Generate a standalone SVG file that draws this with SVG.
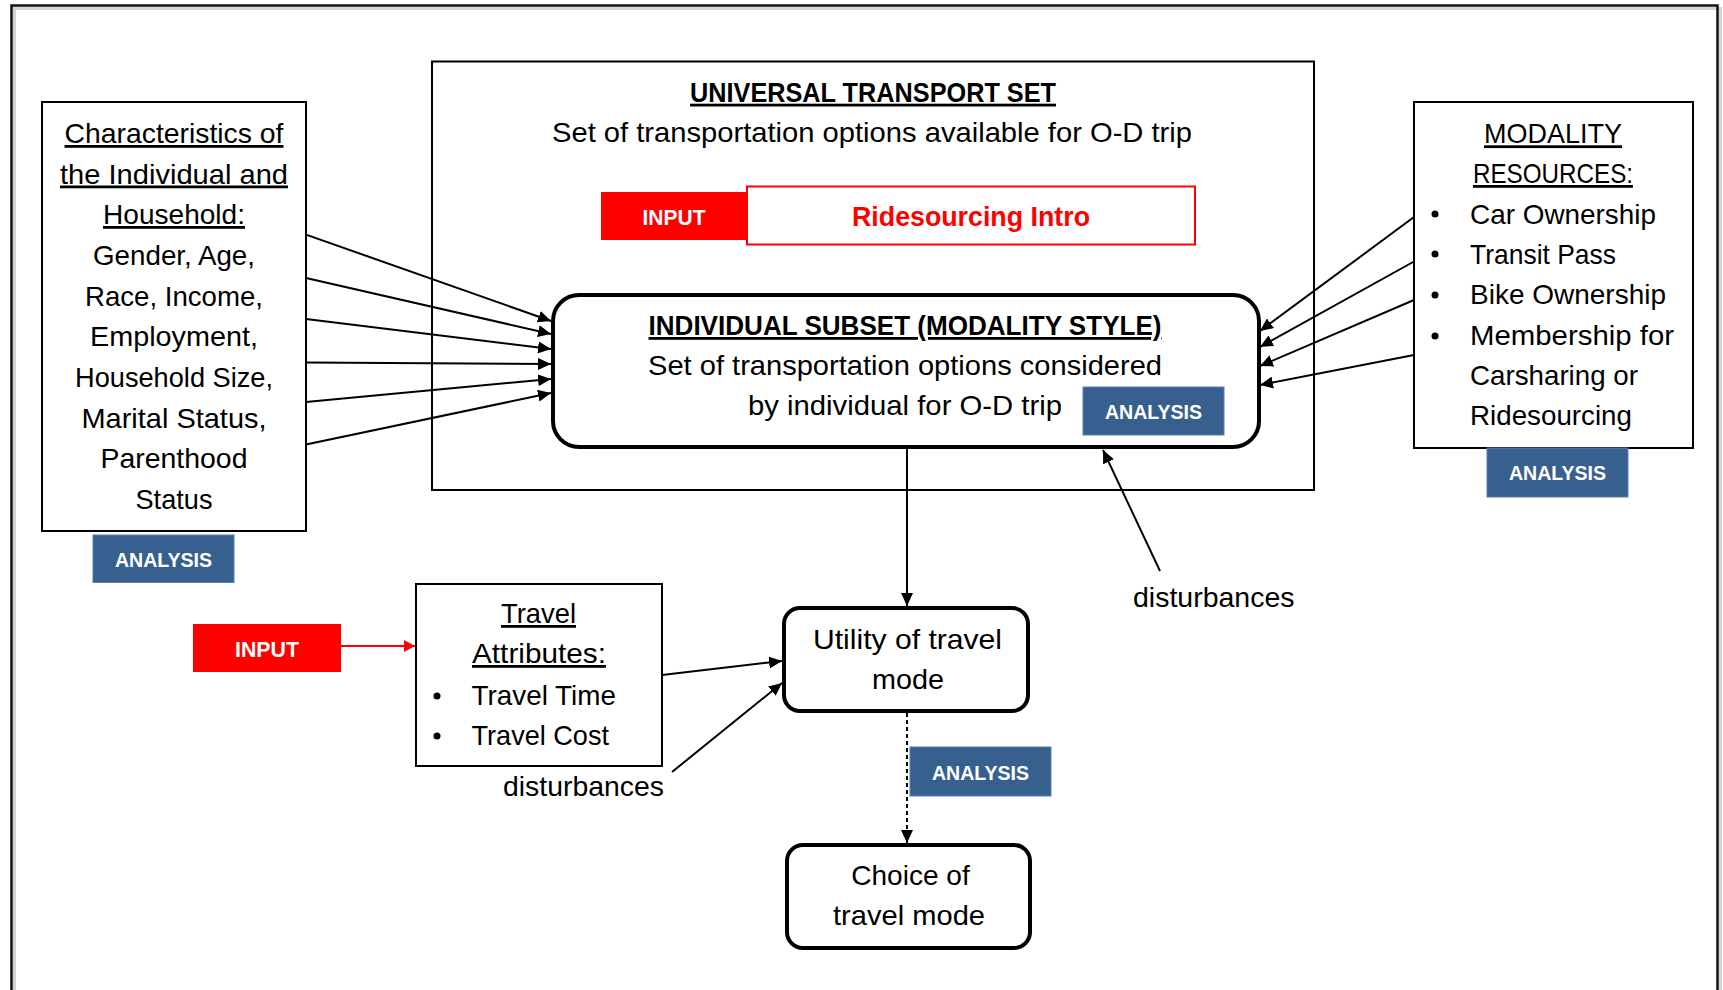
<svg xmlns="http://www.w3.org/2000/svg" width="1723" height="990" viewBox="0 0 1723 990">
<style>
text{font-family:"Liberation Sans",Arial,sans-serif;fill:#000;}
.t{font-size:28px;}
.tc{font-size:28px;text-anchor:middle;}
.u{text-decoration:underline;}
.b{font-weight:bold;}
.box{fill:#fff;stroke:#000;stroke-width:2;}
.rbox{fill:#fff;stroke:#000;stroke-width:4;}
.ana{fill:#38608F;stroke:#5A7FAE;stroke-width:1;}
.anat{font-size:21px;font-weight:bold;fill:#fff;text-anchor:middle;}
.inp{fill:#FF0000;}
.inpt{font-size:22px;font-weight:bold;fill:#fff;text-anchor:middle;}
.ln{stroke:#000;stroke-width:2;fill:none;}
</style>
<defs>
<marker id="ah" markerUnits="userSpaceOnUse" markerWidth="14" markerHeight="12" refX="13" refY="6" orient="auto">
<path d="M0,0 L13,6 L0,12 Z" fill="#000"/>
</marker>
<marker id="ahr" markerUnits="userSpaceOnUse" markerWidth="12" markerHeight="12" refX="11" refY="6" orient="auto">
<path d="M0,0 L11,6 L0,12 Z" fill="#FF0000"/>
</marker>
</defs>
<rect width="1723" height="990" fill="#fff"/>
<g id="frame">
<rect x="14.5" y="8.5" width="1706" height="1000" fill="none" stroke="#d4d4d4" stroke-width="3"/>
<rect x="11.5" y="5.5" width="1706" height="1000" fill="none" stroke="#111" stroke-width="2.5"/>
</g>

<g id="universal">
<rect class="box" x="432" y="61.5" width="882" height="428.5"/>
<text class="tc b u" x="873" y="101.7" font-size="27" textLength="366" lengthAdjust="spacingAndGlyphs">UNIVERSAL TRANSPORT SET</text>
<text class="tc" x="872" y="141.7" textLength="640" lengthAdjust="spacingAndGlyphs">Set of transportation options available for O-D trip</text>
</g>

<g id="input-top">
<rect class="inp" x="601" y="192" width="146" height="48"/>
<text class="inpt" x="674" y="225" textLength="63" lengthAdjust="spacingAndGlyphs">INPUT</text>
</g>
<g id="ridesourcing">
<rect x="747" y="186.5" width="448" height="58" fill="#fff" stroke="#FF0000" stroke-width="2"/>
<text class="tc b" x="971" y="226" font-size="27" style="fill:#FF0000" textLength="238" lengthAdjust="spacingAndGlyphs">Ridesourcing Intro</text>
</g>

<g id="subset">
<rect class="rbox" x="553" y="295" width="706" height="152" rx="26"/>
<text class="tc b u" x="905" y="335" font-size="27" textLength="513" lengthAdjust="spacingAndGlyphs">INDIVIDUAL SUBSET (MODALITY STYLE)</text>
<text class="tc" x="905" y="375" textLength="514" lengthAdjust="spacingAndGlyphs">Set of transportation options considered</text>
<text class="tc" x="905" y="415" textLength="314" lengthAdjust="spacingAndGlyphs">by individual for O-D trip</text>
</g>
<g id="analysis-subset">
<rect class="ana" x="1083" y="387" width="141" height="48"/>
<text class="anat" x="1153.5" y="419" textLength="97" lengthAdjust="spacingAndGlyphs">ANALYSIS</text>
</g>

<g id="characteristics">
<rect class="box" x="42" y="102" width="264" height="429"/>
<text class="tc u" x="174" y="143" textLength="219" lengthAdjust="spacingAndGlyphs">Characteristics of</text>
<text class="tc u" x="174" y="183.5" textLength="228" lengthAdjust="spacingAndGlyphs">the Individual and</text>
<text class="tc u" x="174" y="224" textLength="142" lengthAdjust="spacingAndGlyphs">Household:</text>
<text class="tc" x="174" y="264.5" textLength="162" lengthAdjust="spacingAndGlyphs">Gender, Age,</text>
<text class="tc" x="174" y="305.5" textLength="178" lengthAdjust="spacingAndGlyphs">Race, Income,</text>
<text class="tc" x="174" y="346" textLength="168" lengthAdjust="spacingAndGlyphs">Employment,</text>
<text class="tc" x="174" y="387" textLength="198" lengthAdjust="spacingAndGlyphs">Household Size,</text>
<text class="tc" x="174" y="427.5" textLength="185" lengthAdjust="spacingAndGlyphs">Marital Status,</text>
<text class="tc" x="174" y="468" textLength="147" lengthAdjust="spacingAndGlyphs">Parenthood</text>
<text class="tc" x="174" y="509" textLength="77" lengthAdjust="spacingAndGlyphs">Status</text>
</g>
<g id="analysis-left">
<rect class="ana" x="93" y="535" width="141" height="47.5"/>
<text class="anat" x="163.5" y="567" textLength="97" lengthAdjust="spacingAndGlyphs">ANALYSIS</text>
</g>

<g id="modality">
<rect class="box" x="1414" y="102" width="279" height="346"/>
<text class="tc u" x="1553" y="143.3" textLength="138" lengthAdjust="spacingAndGlyphs">MODALITY</text>
<text class="tc u" x="1553" y="183" textLength="160" lengthAdjust="spacingAndGlyphs">RESOURCES:</text>
<circle cx="1435" cy="214" r="3.5"/>
<circle cx="1435" cy="254" r="3.5"/>
<circle cx="1435" cy="295" r="3.5"/>
<circle cx="1435" cy="336" r="3.5"/>
<text class="t" x="1470" y="223.5" textLength="186" lengthAdjust="spacingAndGlyphs">Car Ownership</text>
<text class="t" x="1470" y="263.5" textLength="146" lengthAdjust="spacingAndGlyphs">Transit Pass</text>
<text class="t" x="1470" y="304" textLength="196" lengthAdjust="spacingAndGlyphs">Bike Ownership</text>
<text class="t" x="1470" y="345" textLength="204" lengthAdjust="spacingAndGlyphs">Membership for</text>
<text class="t" x="1470" y="385" textLength="168" lengthAdjust="spacingAndGlyphs">Carsharing or</text>
<text class="t" x="1470" y="425" textLength="162" lengthAdjust="spacingAndGlyphs">Ridesourcing</text>
</g>
<g id="analysis-right">
<rect class="ana" x="1487" y="448" width="141" height="49"/>
<text class="anat" x="1557.5" y="480" textLength="97" lengthAdjust="spacingAndGlyphs">ANALYSIS</text>
</g>

<g id="input-bottom">
<rect class="inp" x="193" y="624" width="148" height="48"/>
<text class="inpt" x="267" y="656.7" textLength="64" lengthAdjust="spacingAndGlyphs">INPUT</text>
</g>

<g id="travel">
<rect class="box" x="416" y="584" width="246" height="182"/>
<text class="tc u" x="538.5" y="623" textLength="75" lengthAdjust="spacingAndGlyphs">Travel</text>
<text class="tc u" x="539" y="663" textLength="134" lengthAdjust="spacingAndGlyphs">Attributes:</text>
<circle cx="437" cy="696" r="3.5"/>
<circle cx="437" cy="736" r="3.5"/>
<text class="t" x="471.5" y="705" textLength="144.5" lengthAdjust="spacingAndGlyphs">Travel Time</text>
<text class="t" x="471.5" y="745" textLength="137.5" lengthAdjust="spacingAndGlyphs">Travel Cost</text>
</g>

<g id="utility">
<rect class="rbox" x="784" y="608" width="244" height="103" rx="16"/>
<text class="tc" x="907.5" y="649" textLength="189" lengthAdjust="spacingAndGlyphs">Utility of travel</text>
<text class="tc" x="908" y="689" textLength="72" lengthAdjust="spacingAndGlyphs">mode</text>
</g>
<g id="analysis-bottom">
<rect class="ana" x="910" y="747" width="141" height="49"/>
<text class="anat" x="980.5" y="779.5" textLength="97" lengthAdjust="spacingAndGlyphs">ANALYSIS</text>
</g>
<g id="choice">
<rect class="rbox" x="787" y="845" width="243" height="103" rx="16"/>
<text class="tc" x="910.5" y="885" textLength="118.5" lengthAdjust="spacingAndGlyphs">Choice of</text>
<text class="tc" x="909" y="925" textLength="152" lengthAdjust="spacingAndGlyphs">travel mode</text>
</g>

<g id="dist-labels">
<text class="t" x="503" y="796" textLength="161" lengthAdjust="spacingAndGlyphs">disturbances</text>
<text class="t" x="1133" y="607" textLength="161.5" lengthAdjust="spacingAndGlyphs">disturbances</text>
</g>

<g id="connectors">
<line class="ln" x1="306" y1="234.6" x2="551" y2="321" marker-end="url(#ah)"/>
<line class="ln" x1="306" y1="278" x2="551" y2="334" marker-end="url(#ah)"/>
<line class="ln" x1="306" y1="319" x2="551" y2="349" marker-end="url(#ah)"/>
<line class="ln" x1="306" y1="362.5" x2="551" y2="364" marker-end="url(#ah)"/>
<line class="ln" x1="306" y1="402" x2="551" y2="379" marker-end="url(#ah)"/>
<line class="ln" x1="306" y1="444.6" x2="551" y2="393" marker-end="url(#ah)"/>
<line class="ln" x1="1414" y1="217" x2="1260" y2="331" marker-end="url(#ah)"/>
<line class="ln" x1="1414" y1="261.5" x2="1260" y2="347" marker-end="url(#ah)"/>
<line class="ln" x1="1414" y1="300" x2="1260" y2="366" marker-end="url(#ah)"/>
<line class="ln" x1="1414" y1="355" x2="1260" y2="385" marker-end="url(#ah)"/>
<line class="ln" x1="1160" y1="571" x2="1103" y2="450" marker-end="url(#ah)"/>
<line class="ln" x1="907" y1="449" x2="907" y2="606" marker-end="url(#ah)"/>
<line class="ln" x1="907" y1="713" x2="907" y2="843" stroke-dasharray="4,3" marker-end="url(#ah)"/>
<line class="ln" x1="662" y1="675" x2="782" y2="661" marker-end="url(#ah)"/>
<line class="ln" x1="672" y1="772" x2="782" y2="683" marker-end="url(#ah)"/>
<line x1="341" y1="646" x2="415" y2="646" stroke="#FF0000" stroke-width="2" marker-end="url(#ahr)"/>
</g>
</svg>
